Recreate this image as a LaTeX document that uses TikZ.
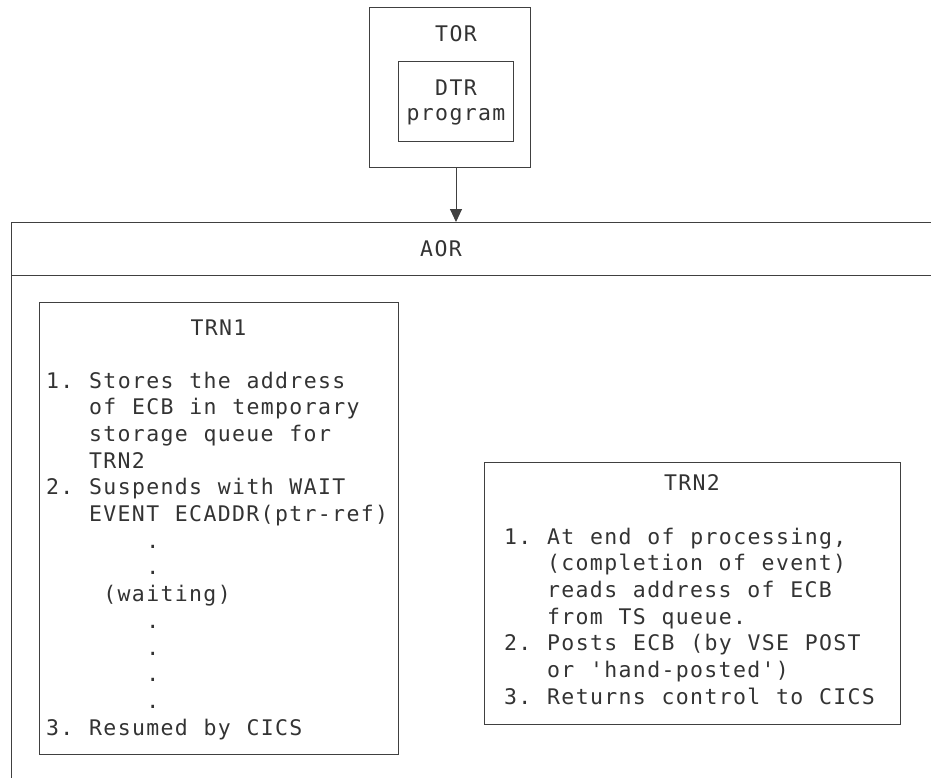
\documentclass[tikz,border=0pt]{standalone}
\usepackage{fontspec}
\setmonofont[LetterSpace=6.3,WordSpace=1.1]{DejaVu Sans Mono}
\usetikzlibrary{arrows.meta}
\definecolor{ink}{HTML}{333333}
\definecolor{edge}{HTML}{404040}
\begin{document}
\begin{tikzpicture}[x=1pt,y=-1pt,
  box/.style={draw=edge,line width=1pt,inner sep=0pt,minimum width=#1},
  txt/.style={inner sep=0pt,anchor=base west,text=ink,font=\ttfamily\fontsize{21.5}{26.7}\selectfont},
  ctxt/.style={txt,anchor=base},
  conn/.style={draw=edge,line width=1pt},
  arr/.style={conn,-{Triangle[length=13pt,width=12pt]}}]
\useasboundingbox (0,0) rectangle (931,778);
% TOR
\node[box=161, minimum height=160] (tor) at (449.5,88) {};
\node[ctxt] (torlbl) at (456,42) {TOR};
\node[box=115, minimum height=80] (dtr) at (455.5,102) {};
\node[ctxt] (dtr1) at (456,96) {DTR};
\node[ctxt] (dtr2) at (456,121) {program};
% AOR frame
\coordinate (aortip) at (456,222);
\coordinate (torfoot) at (456,168);
\coordinate (aorTR) at (931,222);
\coordinate (aorTL) at (11,222);
\coordinate (aorBL) at (11,778);
\coordinate (hdrL) at (11,275);
\coordinate (hdrR) at (931,275);
\draw[conn] (aorTR) -- (aorTL) -- (aorBL);
\draw[conn] (hdrL) -- (hdrR);
\node[ctxt] (aor) at (441,256) {AOR};
\draw[arr] (torfoot) -- (aortip);
% TRN1
\node[box=359, minimum height=452] (trn1) at (218.5,528) {};
\node[ctxt] (t1title) at (218.5,335) {TRN1};
\def\ca{46}\def\cw{14.3}\def\la{388}\def\lh{26.7}
\node[txt] (t1a) at (\ca,\la) {1. Stores the address};
\node[txt] (t1b) at (\ca+3*\cw,\la+\lh) {of ECB in temporary};
\node[txt] (t1c) at (\ca+3*\cw,\la+2*\lh) {storage queue for};
\node[txt] (t1d) at (\ca+3*\cw,\la+3*\lh) {TRN2};
\node[txt] (t1e) at (\ca,\la+4*\lh) {2. Suspends with WAIT};
\node[txt] (t1f) at (\ca+3*\cw,\la+5*\lh) {EVENT ECADDR(ptr-ref)};
\node[txt] (t1g) at (\ca+7*\cw,\la+6*\lh) {.};
\node[txt] (t1h) at (\ca+7*\cw,\la+7*\lh) {.};
\node[txt] (t1i) at (\ca+4*\cw,\la+8*\lh) {(waiting)};
\node[txt] (t1j) at (\ca+7*\cw,\la+9*\lh) {.};
\node[txt] (t1k) at (\ca+7*\cw,\la+10*\lh) {.};
\node[txt] (t1l) at (\ca+7*\cw,\la+11*\lh) {.};
\node[txt] (t1m) at (\ca+7*\cw,\la+12*\lh) {.};
\node[txt] (t1n) at (\ca,\la+13*\lh) {3. Resumed by CICS};
% TRN2
\node[box=416, minimum height=262] (trn2) at (692,593) {};
\node[ctxt] (t2title) at (692,490) {TRN2};
\def\cb{504}\def\lb{544}
\node[txt] (t2a) at (\cb,\lb) {1. At end of processing,};
\node[txt] (t2b) at (\cb+3*\cw,\lb+\lh) {(completion of event)};
\node[txt] (t2c) at (\cb+3*\cw,\lb+2*\lh) {reads address of ECB};
\node[txt] (t2d) at (\cb+3*\cw,\lb+3*\lh) {from TS queue.};
\node[txt] (t2e) at (\cb,\lb+4*\lh) {2. Posts ECB (by VSE POST};
\node[txt] (t2f) at (\cb+3*\cw,\lb+5*\lh) {or 'hand-posted')};
\node[txt] (t2g) at (\cb,\lb+6*\lh) {3. Returns control to CICS};
\end{tikzpicture}
\end{document}
